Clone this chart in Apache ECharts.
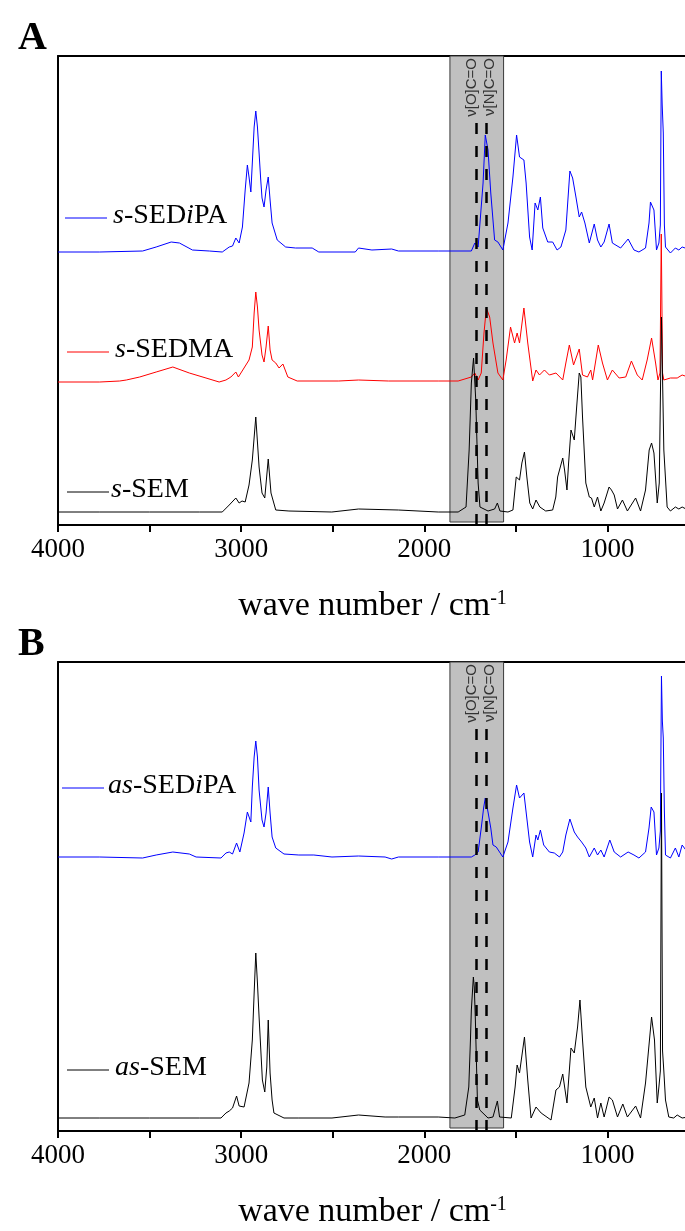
<!DOCTYPE html>
<html><head><meta charset="utf-8">
<script src="https://cdn.jsdelivr.net/npm/echarts@6/dist/echarts.min.js"></script>
<style>html,body{margin:0;padding:0;background:#fff;overflow:hidden}#c{width:702px;height:1231px}</style>
</head><body><div id="c"></div>
<script>
// ---------- data: [wave number (cm-1), intensity (a.u., offset)] ----------
const sSEM = [[4000,13],[3772,13],[3500,13],[3228,13],[3103,13],[3065,20],[3029,27],[3011,22],[2995,24],[2978,23],[2957,40],[2939,65],[2920,108],[2902,58],[2886,32],[2871,27],[2852,66],[2837,32],[2811,15],[2739,14],[2505,13],[2359,16],[2141,15],[1924,13],[1815,13],[1772,18],[1755,75],[1743,142],[1731,167],[1719,125],[1706,42],[1696,18],[1652,14],[1616,16],[1601,22],[1587,14],[1543,13],[1516,15],[1498,48],[1480,45],[1467,62],[1453,73],[1440,48],[1424,22],[1408,16],[1390,25],[1369,18],[1337,14],[1299,15],[1282,28],[1272,48],[1244,67],[1234,55],[1221,35],[1212,62],[1199,95],[1181,85],[1168,118],[1154,152],[1145,148],[1136,108],[1118,42],[1099,28],[1087,27],[1072,18],[1054,28],[1036,14],[1018,22],[991,38],[978,35],[963,30],[945,16],[918,25],[891,14],[846,27],[819,14],[792,35],[772,75],[759,82],[746,72],[728,22],[717,42],[705,208],[692,75],[674,18],[656,14],[629,18],[610,16],[592,18],[560,15],[500,15]];
const sSEDMA = [[4000,143],[3772,143],[3663,144],[3627,145],[3554,148],[3464,153],[3373,158],[3283,152],[3192,147],[3120,143],[3083,145],[3056,148],[3029,153],[3015,148],[2974,160],[2957,165],[2939,178],[2929,212],[2920,233],[2911,218],[2902,195],[2886,170],[2875,163],[2864,178],[2852,199],[2842,175],[2831,165],[2811,162],[2793,157],[2772,161],[2745,148],[2694,144],[2467,144],[2359,145],[2196,144],[1924,144],[1815,144],[1743,148],[1724,152],[1706,145],[1689,152],[1674,192],[1661,217],[1643,208],[1625,182],[1598,152],[1571,145],[1553,165],[1529,198],[1507,182],[1493,192],[1480,182],[1456,217],[1435,182],[1408,144],[1390,155],[1371,150],[1344,155],[1317,150],[1281,152],[1244,145],[1227,162],[1208,180],[1185,160],[1154,176],[1136,150],[1109,148],[1091,155],[1081,145],[1050,180],[1027,162],[1000,145],[973,155],[936,147],[900,148],[869,164],[837,150],[810,145],[783,165],[759,187],[737,162],[724,145],[713,152],[706,291],[699,152],[692,145],[656,147],[619,147],[592,150],[560,148],[500,148]];
const sSEDiPA = [[4000,273],[3772,273],[3538,274],[3464,278],[3382,283],[3337,282],[3266,275],[3174,274],[3103,273],[3065,278],[3047,279],[3029,287],[3011,282],[2993,298],[2978,335],[2966,360],[2957,348],[2947,333],[2939,362],[2929,398],[2920,414],[2911,398],[2902,372],[2893,345],[2886,327],[2875,318],[2864,335],[2852,348],[2842,325],[2831,302],[2803,285],[2757,278],[2703,277],[2612,277],[2576,273],[2377,273],[2359,277],[2286,275],[2178,276],[2141,274],[1924,274],[1743,274],[1724,282],[1706,278],[1679,342],[1667,390],[1652,375],[1637,332],[1616,285],[1598,283],[1571,275],[1543,302],[1516,348],[1496,390],[1480,368],[1471,370],[1456,365],[1444,342],[1425,288],[1411,275],[1395,322],[1380,315],[1366,328],[1353,297],[1326,283],[1299,283],[1275,275],[1254,278],[1227,295],[1205,354],[1190,347],[1172,328],[1154,308],[1141,313],[1123,302],[1099,282],[1072,301],[1054,285],[1036,278],[1018,283],[991,301],[973,282],[928,277],[887,286],[855,275],[828,273],[792,277],[773,302],[765,323],[746,315],[732,275],[719,282],[711,300],[706,454],[701,420],[695,392],[689,300],[683,278],[656,272],[629,277],[610,275],[592,278],[560,276],[500,276]];
const asSEDiPA = [[4000,274],[3772,274],[3538,273],[3464,276],[3373,279],[3283,277],[3246,274],[3110,273],[3083,278],[3065,279],[3047,277],[3025,288],[3007,279],[2984,298],[2966,319],[2947,309],[2939,344],[2929,374],[2920,390],[2911,374],[2902,341],[2886,311],[2875,304],[2864,318],[2852,344],[2842,318],[2831,294],[2811,283],[2766,277],[2685,276],[2603,276],[2594,277],[2504,274],[2359,275],[2214,274],[2178,272],[2141,274],[1924,274],[1743,274],[1724,276],[1706,279],[1689,303],[1676,323],[1667,333],[1652,319],[1637,303],[1625,286],[1607,284],[1589,279],[1571,274],[1543,289],[1516,323],[1496,346],[1480,333],[1456,338],[1444,319],[1425,289],[1408,274],[1390,296],[1380,291],[1366,301],[1348,286],[1317,279],[1290,278],[1262,274],[1244,279],[1227,296],[1205,312],[1181,299],[1163,294],[1141,289],[1118,283],[1099,274],[1072,283],[1054,276],[1036,281],[1018,274],[987,291],[963,279],[928,274],[887,279],[855,276],[828,273],[792,279],[773,303],[761,324],[746,319],[732,276],[719,283],[711,300],[705,455],[700,410],[695,393],[689,320],[683,276],[656,273],[629,283],[610,274],[592,286],[560,278],[500,278]];
const asSEM = [[4000,13],[3772,13],[3500,13],[3228,13],[3110,13],[3083,18],[3065,20],[3047,23],[3025,35],[3011,25],[2984,24],[2957,48],[2939,91],[2929,138],[2920,178],[2911,148],[2902,114],[2884,51],[2871,39],[2860,64],[2852,111],[2842,58],[2831,31],[2821,18],[2766,13],[2685,13],[2504,13],[2359,16],[2214,14],[2141,14],[1924,14],[1833,13],[1779,16],[1757,44],[1748,91],[1743,121],[1732,154],[1727,144],[1721,111],[1710,31],[1697,21],[1652,13],[1625,14],[1601,30],[1589,14],[1525,13],[1504,44],[1493,66],[1480,58],[1453,94],[1435,51],[1417,13],[1390,24],[1362,18],[1308,11],[1281,41],[1262,44],[1244,57],[1221,28],[1199,83],[1181,78],[1163,104],[1150,131],[1136,91],[1118,44],[1091,24],[1072,33],[1054,13],[1036,28],[1018,14],[991,34],[973,31],[945,14],[916,27],[891,14],[846,25],[819,13],[792,48],[759,114],[743,91],[728,28],[719,44],[711,60],[705,338],[699,80],[692,60],[683,31],[665,14],[638,13],[619,16],[592,13],[560,14],[500,14]];

const xRange = [500, 4000];
const xTickStep = 500;
const xLabelStep = 1000;
const yRange = [0, 469];
const carbonylBand = [1860, 1567];
const bandBottom = 3;
const markerWavenumbers = [1718, 1663];
const markerTop = 402;
const markerLabels = ['ν[O]C=O', 'ν[N]C=O'];
const panelLetters = ['A', 'B'];
const axisTitle = 'wave number / cm{sup|-1}';

const SERIF = "'Liberation Serif', 'Times New Roman', serif";
const BLUE = '#0000ff', RED = '#ff0000', BLACK = '#000000';

const panels = [
  { top: 56, series: [
      { name: 's-SEDiPA', data: sSEDiPA, color: BLUE, legend: '{i|s}-SED{i|i}PA', lx: 65, ly: 218, tx: 113, ty: 216 },
      { name: 's-SEDMA', data: sSEDMA, color: RED, legend: '{i|s}-SEDMA', lx: 67, ly: 352, tx: 115, ty: 350 },
      { name: 's-SEM', data: sSEM, color: BLACK, legend: '{i|s}-SEM', lx: 67, ly: 492, tx: 111, ty: 490 } ] },
  { top: 662, series: [
      { name: 'as-SEDiPA', data: asSEDiPA, color: BLUE, legend: '{i|as}-SED{i|i}PA', lx: 62, ly: 788, tx: 108, ty: 786 },
      { name: 'as-SEM', data: asSEM, color: BLACK, legend: '{i|as}-SEM', lx: 67, ly: 1070, tx: 115, ty: 1068 } ] }
];

const chart = echarts.init(document.getElementById('c'), null, { renderer: 'canvas' });

const grid = [], xAxis = [], yAxis = [], series = [], graphic = [];
panels.forEach((p, i) => {
  grid.push({ left: 58, top: p.top, right: 0, height: 469, show: false });
  xAxis.push({
    type: 'value', gridIndex: i, position: 'bottom', min: xRange[0], max: xRange[1], inverse: true, interval: xTickStep,
    axisLine: { show: true, onZero: false, lineStyle: { color: '#000', width: 2 } },
    axisTick: { show: true, inside: false, length: 7, lineStyle: { color: '#000', width: 2 } },
    splitLine: { show: false },
    axisLabel: { color: '#000', fontSize: 27, fontFamily: SERIF, margin: 11,
      formatter: v => (v % xLabelStep === 0 ? String(v) : '') },
    name: axisTitle, nameLocation: 'middle', nameGap: 64,
    nameTextStyle: { color: '#000', fontSize: 34, fontFamily: SERIF, padding: [0, 12, 0, 0],
      rich: { sup: { fontSize: 20, fontFamily: SERIF, color: '#000', verticalAlign: 'top', padding: [0, 0, 15, 0] } } }
  });
  xAxis.push({
    type: 'value', gridIndex: i, position: 'top', min: xRange[0], max: xRange[1], inverse: true, interval: xTickStep,
    axisLine: { show: true, onZero: false, lineStyle: { color: '#000', width: 2 } },
    axisTick: { show: false }, axisLabel: { show: false }, splitLine: { show: false }
  });
  yAxis.push({
    type: 'value', gridIndex: i, min: yRange[0], max: yRange[1],
    axisLine: { show: true, onZero: false, lineStyle: { color: '#000', width: 2 } },
    axisTick: { show: false }, axisLabel: { show: false }, splitLine: { show: false }
  });
  const xi = i * 2;
  series.push({
    type: 'line', xAxisIndex: xi, yAxisIndex: i, data: [[carbonylBand[0], bandBottom]], z: 1,
    showSymbol: false, lineStyle: { opacity: 0 }, silent: true,
    markArea: { silent: true, itemStyle: { color: '#c0c0c0', borderColor: '#3a3a3a', borderWidth: 1, opacity: 1 },
      label: { show: false },
      data: [[{ coord: [carbonylBand[0], bandBottom] }, { coord: [carbonylBand[1], yRange[1]] }]] }
  });
  p.series.forEach(s => {
    series.push({
      name: s.name, type: 'line', xAxisIndex: xi, yAxisIndex: i, data: s.data, z: 3,
      showSymbol: false, symbol: 'none', lineStyle: { color: s.color, width: 1 }, itemStyle: { color: s.color },
      silent: true
    });
    graphic.push({ type: 'line', shape: { x1: s.lx, y1: s.ly, x2: s.lx + 42, y2: s.ly }, style: { stroke: s.color, lineWidth: 1 } });
    graphic.push({ type: 'text', x: s.tx, y: s.ty, style: {
      text: s.legend, fill: '#000', fontSize: 28, fontFamily: SERIF, verticalAlign: 'middle', align: 'left',
      rich: { i: { fontStyle: 'italic', fontSize: 28, fontFamily: SERIF, fill: '#000' } } } });
  });
  series.push({
    type: 'line', xAxisIndex: xi, yAxisIndex: i, data: [[markerWavenumbers[0], 0]], z: 5,
    showSymbol: false, lineStyle: { opacity: 0 }, silent: true,
    markLine: { silent: true, symbol: ['none', 'none'], label: { show: false },
      lineStyle: { color: '#000', width: 2.5, type: [11, 12] },
      data: markerWavenumbers.map(w => [{ coord: [w, markerTop] }, { coord: [w, 0] }]) }
  });
  graphic.push({ type: 'text', left: 18, top: p.top - 37, style: { text: panelLetters[i], fontSize: 40, fontWeight: 'bold', fontFamily: SERIF, fill: '#000' } });
});

chart.setOption({ animation: false, backgroundColor: '#fff', grid, xAxis, yAxis, series });

const labelOffsets = [-4, 4];
panels.forEach((p, i) => {
  const topPx = chart.convertToPixel({ yAxisIndex: i }, yRange[1]);
  markerWavenumbers.forEach((w, k) => {
    const xPx = chart.convertToPixel({ xAxisIndex: i * 2 }, w);
    graphic.push({ type: 'text', x: xPx + labelOffsets[k], y: topPx + 2, rotation: Math.PI / 2, z: 10,
      style: { text: markerLabels[k], fill: '#333', fontSize: 15, fontFamily: "'Liberation Sans', Arial, sans-serif",
        align: 'right', verticalAlign: 'middle' } });
  });
});
chart.setOption({ graphic });
</script></body></html>
